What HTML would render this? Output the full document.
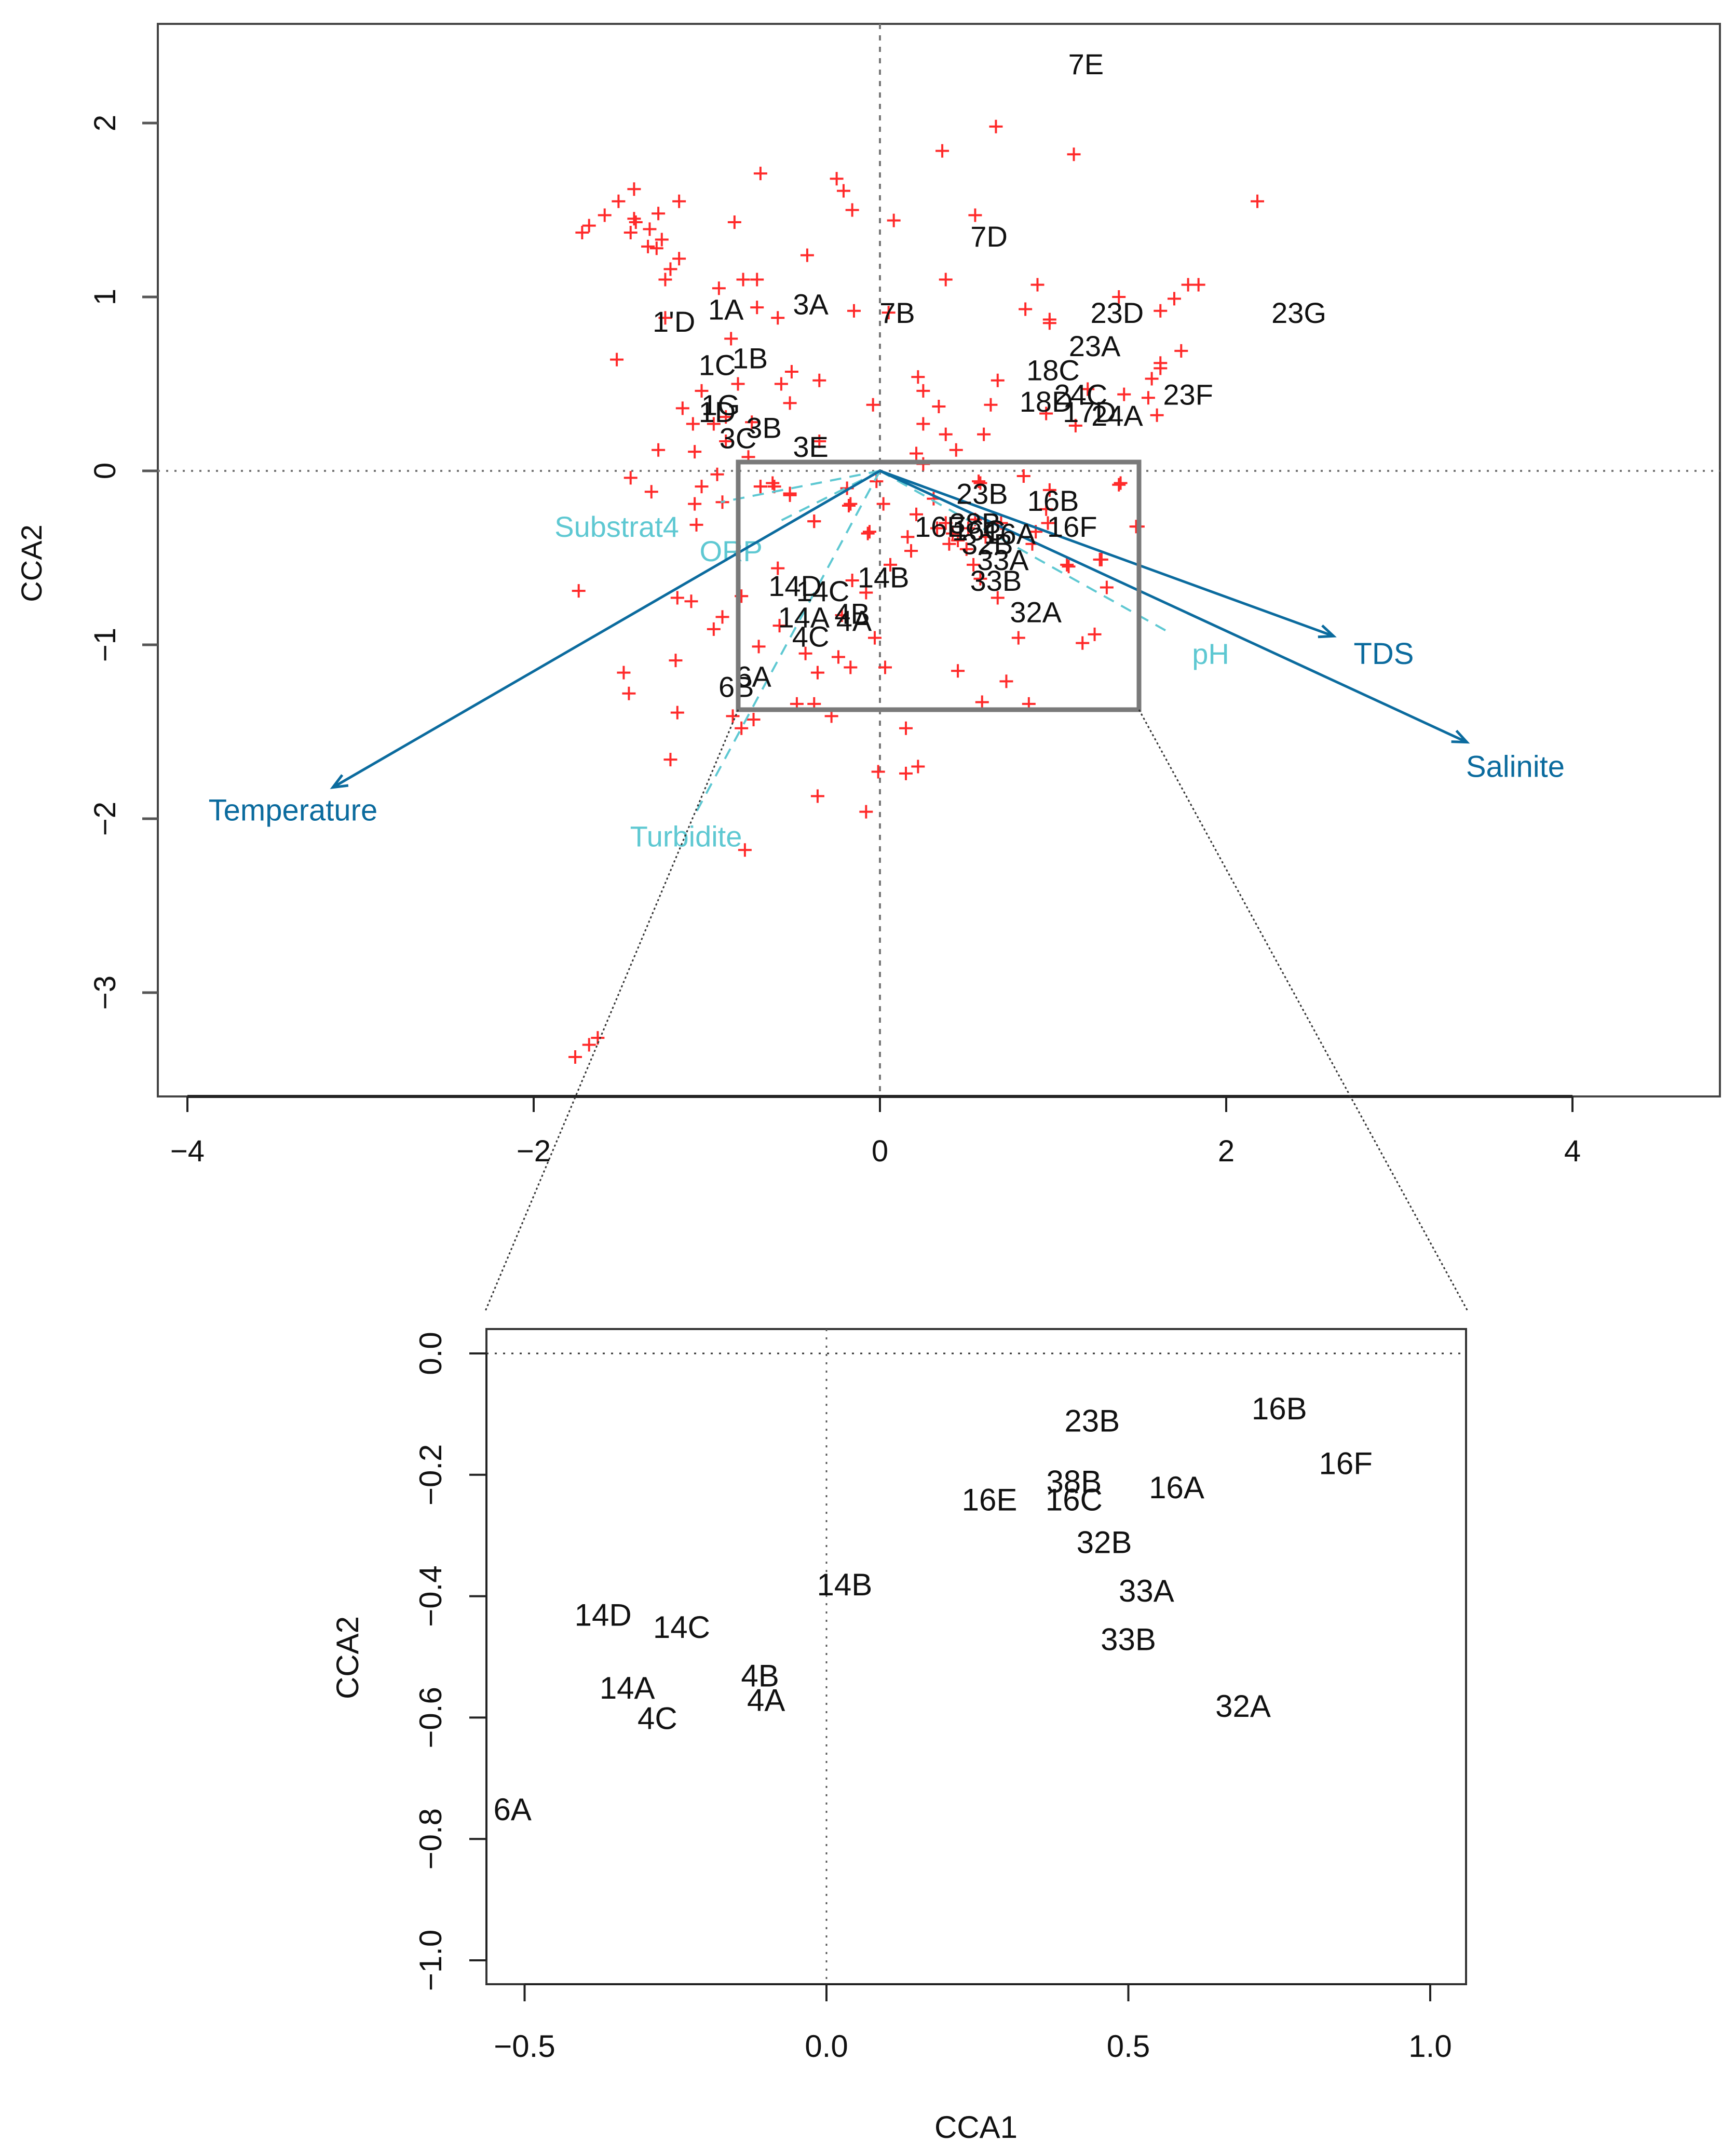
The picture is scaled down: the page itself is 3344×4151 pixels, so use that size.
<!DOCTYPE html>
<html><head><meta charset="utf-8"><style>
html,body{margin:0;padding:0;background:#fff;}
svg{display:block;font-family:"Liberation Sans",sans-serif;}
</style></head><body>
<svg id="chart" width="3344" height="4151" viewBox="0 0 3344 4151" xmlns="http://www.w3.org/2000/svg">
<rect x="0" y="0" width="3344" height="4151" fill="#fff"/>
<defs><clipPath id="insetClip"><rect x="937" y="2560" width="1887" height="1262"/></clipPath></defs>
<g id="main"></g>
<g id="inset"></g>
</svg>
<script>
// ---------- data ----------
const siteX = [-1.72,-1.68,-1.59,-1.51,-1.42,-1.42,-1.44,-1.41,-1.33,-1.28,-1.26,-1.29,-1.34,-1.16,-1.16,-1.21,-1.24,-0.84,-0.69,-0.25,-0.21,-0.16,-0.42,-0.79,-0.71,-0.93,-0.71,-0.59,-0.15,-1.24,-0.86,-1.52,-0.51,-0.35,-0.57,-0.82,-1.03,-1.14,-0.52,-0.04,-1.08,-0.96,-0.89,-0.74,-0.89,-0.35,-1.28,-1.07,-0.76,-1.44,-1.32,-1.03,-0.94,-1.07,-0.91,-0.69,-0.62,-0.52,-1.06,-0.38,-0.19,-0.17,-0.02,
0.67,0.36,1.12,2.18,0.08,0.55,0.38,0.91,0.05,0.84,0.98,0.98,1.38,1.62,1.70,1.78,1.84,1.74,1.62,1.62,1.57,1.55,1.41,1.60,1.13,1.20,0.96,0.68,0.22,0.25,0.34,0.64,0.25,0.38,0.60,0.44,0.21,0.25,0.83,1.38,1.49,0.02,0.21,0.58,0.31,1.28,0.97,0.90,0.16,0.18,-0.07,0.88,1.08,
-1.74,-1.17,-1.09,-0.91,-0.96,-1.18,-1.48,-1.45,-1.17,-0.85,-0.73,-0.80,-1.21,-0.36,-0.08,-0.01,0.15,0.22,0.15,-0.78,-1.76,-1.68,-1.63,-0.61,-0.69,-0.52,-0.38,-0.18,-0.06,-0.59,-0.80,-0.58,-0.70,-0.43,-0.24,-0.36,-0.17,-0.22,-0.03,-0.08,0.03,-0.48,-0.38,-0.28,0.45,0.73,0.59,0.86,0.80,1.17,1.24,1.31,1.09,1.27,1.39,1.48,0.54,0.58,0.68,0.51,0.61,0.70,0.96,0.98,0.57,0.83,0.06,-0.16,0.33,0.38,0.42,0.45,0.50,0.40,0.55];
const siteY = [1.37,1.41,1.47,1.55,1.62,1.45,1.37,1.43,1.39,1.48,1.33,1.28,1.29,1.55,1.22,1.16,1.10,1.43,1.71,1.68,1.61,1.50,1.24,1.10,1.10,1.05,0.94,0.88,0.92,0.88,0.76,0.64,0.57,0.52,0.50,0.50,0.46,0.36,0.39,0.38,0.27,0.27,0.31,0.28,0.17,0.17,0.12,0.11,0.08,-0.04,-0.12,-0.09,-0.02,-0.19,-0.18,-0.09,-0.07,-0.13,-0.31,-0.29,-0.10,-0.19,-0.06,
1.98,1.84,1.82,1.55,1.44,1.47,1.10,1.07,0.91,0.93,0.87,0.85,1.00,0.92,0.99,1.07,1.07,0.69,0.62,0.59,0.53,0.42,0.44,0.32,0.26,0.47,0.33,0.52,0.54,0.46,0.37,0.38,0.27,0.21,0.21,0.12,0.10,0.04,-0.03,-0.08,-0.32,-0.19,-0.25,-0.07,-0.16,-0.51,-0.30,-0.35,-0.38,-0.46,-0.36,-0.42,-0.54,
-0.69,-0.73,-0.75,-0.84,-0.91,-1.09,-1.16,-1.28,-1.39,-1.41,-1.43,-1.48,-1.66,-1.87,-1.96,-1.73,-1.74,-1.70,-1.48,-2.18,-3.37,-3.30,-3.26,-0.09,-0.09,-0.14,-0.29,-0.20,-0.35,-0.56,-0.72,-0.89,-1.01,-1.05,-1.07,-1.16,-1.13,-0.83,-0.96,-0.70,-1.13,-1.34,-1.34,-1.41,-1.15,-1.21,-1.33,-1.34,-0.96,-0.99,-0.94,-0.67,-0.55,-0.51,-0.07,-0.32,-0.54,-0.62,-0.73,-0.33,-0.38,-0.30,-0.22,-0.11,-0.06,-0.03,-0.54,-0.63,-0.33,-0.30,-0.36,-0.40,-0.45,-0.42,-0.28];

const mainLabels = ["7E","7D","7B","3A","1A","1'D","1C","1B","1G","1D","3B","3C","3E","23D","23G","23A","18C","24C","18D","17D","24A","23F","23B","16B","16E","38B","16C","16A","16F","32B","33A","33B","32A","14B","14D","14C","14A","4B","4A","4C","6A","6B"];
const mainLabelX = [1.19,0.63,0.10,-0.40,-0.89,-1.19,-0.94,-0.75,-0.92,-0.94,-0.67,-0.82,-0.40,1.37,2.42,1.24,1.00,1.16,0.96,1.21,1.37,1.78,0.59,1.00,0.35,0.55,0.57,0.75,1.11,0.62,0.71,0.67,0.90,0.02,-0.49,-0.33,-0.44,-0.16,-0.15,-0.40,-0.73,-0.83];
const mainLabelY = [2.34,1.35,0.91,0.96,0.93,0.86,0.61,0.65,0.38,0.34,0.25,0.19,0.14,0.91,0.91,0.72,0.58,0.44,0.40,0.34,0.32,0.44,-0.13,-0.17,-0.32,-0.30,-0.34,-0.36,-0.32,-0.42,-0.51,-0.63,-0.81,-0.61,-0.66,-0.69,-0.84,-0.82,-0.86,-0.95,-1.18,-1.24];

const envNames = ["Temperature","TDS","Salinite"];
const envX = [-3.16,2.62,3.39];
const envY = [-1.82,-0.95,-1.56];
const envLabelX = [-3.39,2.91,3.67];
const envLabelY = [-1.95,-1.05,-1.70];

const factNames = ["Substrat4","ORP","pH","Turbidite"];
const factX = [-0.92,-0.58,1.69,-1.06];
const factY = [-0.18,-0.29,-0.94,-1.96];
const factLabelX = [-1.52,-0.86,1.91,-1.12];
const factLabelY = [-0.32,-0.46,-1.05,-2.10];

const mainXTicks = [-4,-2,0,2,4];
const mainYTicks = [-3,-2,-1,0,1,2];

const insetLabels = ["23B","16B","16F","38B","16C","16E","16A","32B","14B","33A","33B","14D","14C","14A","4B","4A","4C","32A","6A"];
const insetX = [0.44,0.75,0.86,0.41,0.41,0.27,0.58,0.46,0.03,0.53,0.50,-0.37,-0.24,-0.33,-0.11,-0.10,-0.28,0.69,-0.52];
const insetY = [-0.11,-0.09,-0.18,-0.21,-0.24,-0.24,-0.22,-0.31,-0.38,-0.39,-0.47,-0.43,-0.45,-0.55,-0.53,-0.57,-0.60,-0.58,-0.75];
const insetXTicks = [-0.5,0.0,0.5,1.0];
const insetYTicks = [0.0,-0.2,-0.4,-0.6,-0.8,-1.0];

// ---------- scales ----------
const mx = v => 1695 + 333.5*v;
const my = v => 907 - 335*v;
const ix = v => 1592 + 1163*v;
const iy = v => 2607 - 1169*v;

const NS = "http://www.w3.org/2000/svg";
function mk(parent, tag, attrs, text){
  const e = document.createElementNS(NS, tag);
  for (const k in attrs) e.setAttribute(k, attrs[k]);
  if (text !== undefined) e.textContent = text;
  parent.appendChild(e);
  return e;
}
const main = document.getElementById('main');
const inset = document.getElementById('inset');
const dark = "#0b6b9e", cyan = "#5ec8d2";

let f = mk(main,'rect',{x:304,y:46,width:3009,height:2066,fill:'none',stroke:'#444','stroke-width':4});


let h = mk(main,'line',{x1:304,y1:my(0),x2:3313,y2:my(0),stroke:'#777','stroke-width':4,'stroke-dasharray':'4 12'});


let v = mk(main,'line',{x1:mx(0),y1:46,x2:mx(0),y2:2112,stroke:'#777','stroke-width':4,'stroke-dasharray':'10 12'});



let xa = mk(main,'line',{x1:mx(-4),y1:2112,x2:mx(4),y2:2112,stroke:'#222','stroke-width':6});


mainXTicks.forEach(t=>{
  const tk = mk(main,'line',{x1:mx(t),y1:2112,x2:mx(t),y2:2142,stroke:'#222','stroke-width':4});
  
  
  const lb = mk(main,'text',{x:mx(t),y:2237,'font-size':58,'text-anchor':'middle',fill:'#111'}, t<0?'\u2212'+Math.abs(t):String(t));
  
  
});
mainYTicks.forEach(t=>{
  const tk = mk(main,'line',{x1:274,y1:my(t),x2:304,y2:my(t),stroke:'#555','stroke-width':5});
  
  
  const lb = mk(main,'text',{x:0,y:0,'font-size':58,'text-anchor':'middle',fill:'#111',transform:`translate(222,${my(t)}) rotate(-90)`}, t<0?'\u2212'+Math.abs(t):String(t));
  
  
});
let yt = mk(main,'text',{x:0,y:0,'font-size':56,'text-anchor':'middle',fill:'#111',transform:'translate(80,1085) rotate(-90)'},'CCA2');



function plus(parent,x,y){
  const g = mk(parent,'path',{d:`M${x-13},${y}h26M${x},${y-13}v26`,stroke:'#ff2a2a','stroke-width':4});
  
  
}
siteX.forEach((sx,i)=>plus(main,mx(sx),my(siteY[i])));

factNames.forEach((n,i)=>{
  const l = mk(main,'line',{x1:mx(0),y1:my(0),x2:mx(factX[i]),y2:my(factY[i]),stroke:cyan,'stroke-width':4,'stroke-dasharray':'22 16'});
  
  
  const t = mk(main,'text',{x:mx(factLabelX[i]),y:my(factLabelY[i])+20,'font-size':56,'text-anchor':'middle',fill:cyan},n);
  
  
});

envNames.forEach((n,i)=>{
  const x1=mx(0),y1=my(0),x2=mx(envX[i]),y2=my(envY[i]);
  const l = mk(main,'line',{x1,y1,x2,y2,stroke:dark,'stroke-width':5});
  
  
  const a=Math.atan2(y2-y1,x2-x1), L=30;
  const hd = mk(main,'path',{d:`M${x2-L*Math.cos(a-0.4)},${y2-L*Math.sin(a-0.4)}L${x2},${y2}L${x2-L*Math.cos(a+0.4)},${y2-L*Math.sin(a+0.4)}`,fill:'none',stroke:dark,'stroke-width':5});
  
  
  const t = mk(main,'text',{x:mx(envLabelX[i]),y:my(envLabelY[i])+20,'font-size':58,'text-anchor':'middle',fill:dark},n);
  
  
});

mainLabels.forEach((n,i)=>{
  const t = mk(main,'text',{x:mx(mainLabelX[i]),y:my(mainLabelY[i])+20,'font-size':56,'text-anchor':'middle',fill:'#111'},n);
  
  
});

let zr = mk(main,'rect',{x:1422,y:890,width:772,height:477,fill:'none',stroke:'#7a7a7a','stroke-width':9});


let c1 = mk(main,'line',{x1:1422,y1:1367,x2:935,y2:2525,stroke:'#333','stroke-width':3,'stroke-dasharray':'4 5'});


let c2 = mk(main,'line',{x1:2194,y1:1367,x2:2827,y2:2525,stroke:'#333','stroke-width':3,'stroke-dasharray':'4 5'});



let ifr = mk(inset,'rect',{x:937,y:2560,width:1887,height:1262,fill:'none',stroke:'#333','stroke-width':4});


let ih = mk(inset,'line',{x1:937,y1:iy(0),x2:2824,y2:iy(0),stroke:'#333','stroke-width':3,'stroke-dasharray':'4 12'});


let iv = mk(inset,'line',{x1:ix(0),y1:2560,x2:ix(0),y2:3822,stroke:'#555','stroke-width':3,'stroke-dasharray':'4 12'});


let ixa = mk(inset,'line',{x1:ix(-0.5),y1:3822,x2:ix(1.0),y2:3822,stroke:'#222','stroke-width':4});


insetXTicks.forEach(t=>{
  const tk = mk(inset,'line',{x1:ix(t),y1:3822,x2:ix(t),y2:3855,stroke:'#222','stroke-width':4});
  
  
  const lb = mk(inset,'text',{x:ix(t),y:3962,'font-size':60,'text-anchor':'middle',fill:'#111'}, (t<0?'\u2212':'')+Math.abs(t).toFixed(1));
  
  
});
let iya = mk(inset,'line',{x1:937,y1:iy(0),x2:937,y2:iy(-1),stroke:'#222','stroke-width':4});


insetYTicks.forEach(t=>{
  const tk = mk(inset,'line',{x1:904,y1:iy(t),x2:937,y2:iy(t),stroke:'#222','stroke-width':4});
  
  
  const lb = mk(inset,'text',{x:0,y:0,'font-size':60,'text-anchor':'middle',fill:'#111',transform:`translate(850,${iy(t)}) rotate(-90)`}, (t<0?'\u2212':'')+Math.abs(t).toFixed(1));
  
  
});
let ixt = mk(inset,'text',{x:1880,y:4118,'font-size':60,'text-anchor':'middle',fill:'#111'},'CCA1');


let iyt = mk(inset,'text',{x:0,y:0,'font-size':60,'text-anchor':'middle',fill:'#111',transform:'translate(690,3193) rotate(-90)'},'CCA2');


const ig = mk(inset,'g',{'clip-path':'url(#insetClip)'});


insetLabels.forEach((n,i)=>{
  const t = mk(ig,'text',{x:ix(insetX[i]),y:iy(insetY[i])+22,'font-size':60,'text-anchor':'middle',fill:'#111'},n);
  
  
});
</script>
</body></html>
